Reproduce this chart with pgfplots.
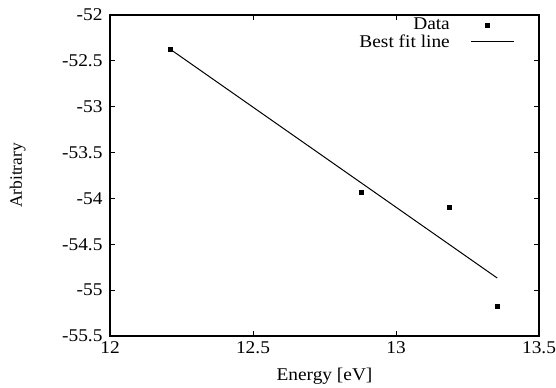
\documentclass[border=0pt]{standalone}
\usepackage{fontspec}
\setmainfont{Liberation Serif}
\newfontfamily\wide[FakeStretch=1.08]{Liberation Serif}
\usepackage{pgfplots}
\pgfplotsset{compat=1.18}
\pgfplotsset{
  marklegend/.style={legend image code/.code={\path (0bp,0bp) (62bp,0bp);\draw[#1] plot coordinates {(35bp,0bp)};}},
  linelegend/.style={legend image code/.code={\path (0bp,0bp);\draw[#1] (19bp,0bp) -- (62bp,0bp);}},
}
\begin{document}
\begin{tikzpicture}[x=1bp,y=1bp]
\useasboundingbox (0,0) rectangle (556,387);
\begin{axis}[
  at={(110bp,51bp)}, anchor=south west,
  scale only axis, width=429bp, height=321bp,
  xmin=12, xmax=13.5, ymin=-55.5, ymax=-52,
  xtick distance=0.5, ytick distance=0.5,
  tick align=inside, major tick length=5bp,
  axis line style={line width=1.1bp},
  every tick/.style={black, line width=0.8bp},
  /pgf/number format/assume math mode=true,
  /pgf/number format/fixed,
  ticklabel style={font=\wide\fontsize{18}{21}\selectfont},
  yticklabel style={xshift=-4bp},
  xticklabel style={yshift=-2bp},
  xlabel={Energy [eV]}, ylabel={Arbitrary},
  xlabel style={font=\wide\fontsize{18}{21}\selectfont,
    at={(axis description cs:0.5,-0.125)}, anchor=center},
  ylabel style={font=\fontsize{17.5}{20}\selectfont,
    at={(axis description cs:-0.215,0.5)}, anchor=center},
  legend plot pos=right,
  legend cell align=right,
  legend style={draw=none, fill=none, at={(1,1)}, anchor=north east,
    xshift=-21bp, yshift=1bp, font=\wide\fontsize{18}{21}\selectfont,
    row sep=-1bp},
]
\addplot[only marks, mark=square*, mark size=2bp, black, marklegend]
  coordinates {
    (12.209, -52.37) (12.877, -53.934) (13.185, -54.097) (13.354, -55.17)
  };
\addlegendentry{Data}
\addplot[black, line width=1bp, mark=none, linelegend]
  coordinates {
    (12.209, -52.37) (13.354, -54.868)
  };
\addlegendentry{Best fit line}
\end{axis}
\end{tikzpicture}
\end{document}
